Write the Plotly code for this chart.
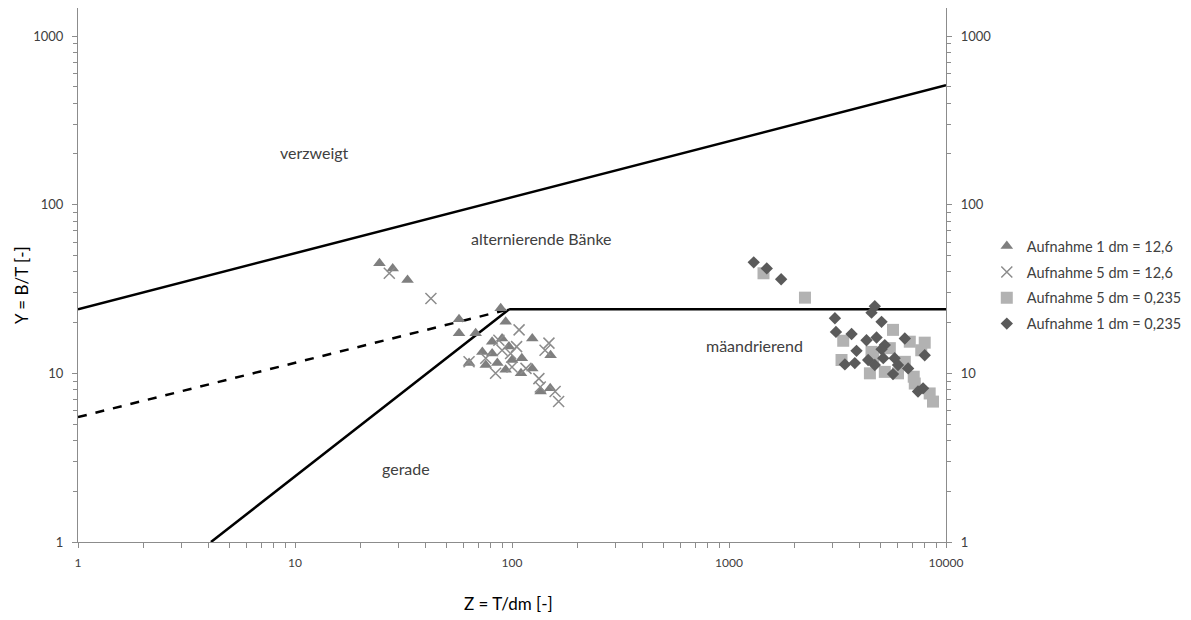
import plotly.graph_objects as go
import numpy as np

# ---- data ----
tri_z = [24.5, 28.2, 33.0, 88.7, 57, 93.5, 57, 68, 124, 150.6, 63.4, 73, 81, 90, 96.8, 85.6, 100, 111, 110, 93.5, 75.7, 124, 135.5, 150, 81]
tri_y = [44.9, 41.9, 35.7, 24.3, 20.9, 20.2, 17.3, 17.3, 16.1, 12.8, 11.5, 13.4, 15.4, 16.1, 14.4, 11.5, 12.0, 12.3, 10.0, 10.5, 11.2, 10.7, 7.8, 8.15, 13.1]

x_z = [27.2, 42.3, 107.8, 148, 142, 63.4, 84, 90, 98.5, 133, 135, 158, 164, 100, 116, 87, 105, 75.7]
x_y = [39.2, 27.8, 18.1, 15.1, 13.7, 11.7, 10.0, 13.7, 13.1, 9.3, 8.3, 7.8, 6.8, 10.9, 10.7, 15.7, 14.4, 12.3]

sq_z = [1442, 2239, 5700, 3360, 7980, 6810, 5510, 7690, 3300, 4537, 4620, 4460, 5224, 6010, 6460, 7100, 7180, 8410, 8710]
sq_y = [39.2, 28.1, 18.1, 15.6, 15.2, 15.4, 14.1, 13.7, 12.0, 13.4, 12.3, 10.0, 10.2, 10.0, 11.7, 9.55, 8.7, 7.6, 6.8]

dia_z = [1300, 1493, 1739, 4697, 4537, 3077, 5046, 3672, 3111, 4302, 4786, 6460, 5224, 5046, 3870, 7980, 3420, 3800, 4378, 4697, 5140, 5800, 6010, 6690, 5700, 7430, 7840]
dia_y = [45.5, 41.9, 36.1, 25.0, 22.9, 21.2, 20.2, 17.1, 17.6, 15.7, 16.3, 16.1, 14.7, 13.9, 13.6, 12.8, 11.3, 11.5, 12.0, 11.2, 12.3, 12.3, 11.2, 10.7, 9.9, 7.8, 8.15]

# boundary lines
upper_z = [1, 10000]
upper_y = [24, 510]
horiz_z = [97, 10000]
horiz_y = [24, 24]
lower_z = [4.1, 97]
lower_y = [1, 24]
dash_z = [1, 97]
dash_y = [5.5, 24]

# region labels
reg_text = ["verzweigt", "alternierende Bänke", "gerade", "mäandrierend"]
reg_z = [12.3, 137, 32.6, 1310]
reg_y = [205, 63.4, 2.71, 14.7]

labels = ["Aufnahme 1 dm = 12,6", "Aufnahme 5 dm = 12,6", "Aufnahme 5 dm = 0,235", "Aufnahme 1 dm = 0,235"]

ytick_vals = [1, 10, 100, 1000]
xtick_vals = [1, 10, 100, 1000, 10000]

FONT = "Lato, 'Open Sans', sans-serif"
TXT = "#404040"
AX = "#8c8c8c"

fig = go.Figure()

for zz, yy, dash in [(upper_z, upper_y, "solid"), (horiz_z, horiz_y, "solid"),
                     (lower_z, lower_y, "solid"), (dash_z, dash_y, "dash")]:
    fig.add_trace(go.Scatter(x=zz, y=yy, mode="lines", showlegend=False,
                             line=dict(color="black", width=2.5, dash=dash), hoverinfo="skip"))

fig.add_trace(go.Scatter(x=tri_z, y=tri_y, mode="markers", name=labels[0], legendgroup="a",
                         marker=dict(symbol="triangle-up", size=11, color="#7f7f7f")))
fig.add_trace(go.Scatter(x=x_z, y=x_y, mode="markers", name=labels[1], legendgroup="b",
                         marker=dict(symbol="x-thin", size=11, line=dict(color="#8c8c8c", width=1.5))))
fig.add_trace(go.Scatter(x=sq_z, y=sq_y, mode="markers", name=labels[2], legendgroup="c",
                         marker=dict(symbol="square", size=12, color="#b2b2b2")))
fig.add_trace(go.Scatter(x=dia_z, y=dia_y, mode="markers", name=labels[3], legendgroup="d",
                         marker=dict(symbol="diamond", size=9.5, color="#5a5a5a")))

# invisible trace for right axis
fig.add_trace(go.Scatter(x=[1], y=[1], yaxis="y2", mode="markers", showlegend=False,
                         marker=dict(opacity=0), hoverinfo="skip"))

for t, zz, yy in zip(reg_text, reg_z, reg_y):
    fig.add_annotation(x=np.log10(zz), y=np.log10(yy), text=t, showarrow=False,
                       font=dict(family=FONT, size=16, color=TXT))

minor_vals = [m * 10 ** d for d in range(0, 4) for m in range(2, 10)]

yaxis_common = dict(type="log", range=[0, 3.166], tickvals=ytick_vals, ticktext=[str(v) for v in ytick_vals],
                    showgrid=False, zeroline=False, showline=True, linecolor=AX, linewidth=1.2,
                    ticks="outside", ticklen=5, tickcolor=AX, ticklabelstandoff=6,
                    minor=dict(tickmode="array", tickvals=minor_vals[:24], ticks="outside", ticklen=4, tickcolor=AX, showgrid=False),
                    tickfont=dict(family=FONT, size=13, color=TXT))

fig.update_layout(
    width=1191, height=620,
    margin=dict(l=70, r=253, t=0, b=86, autoexpand=False),
    plot_bgcolor="white", paper_bgcolor="white",
    xaxis=dict(type="log", range=[0, 4], tickvals=xtick_vals, ticktext=[str(v) for v in xtick_vals],
               showgrid=False, zeroline=False, showline=True, mirror=True, linecolor=AX, linewidth=1.2,
               ticks="outside", ticklen=5, tickcolor=AX, ticklabelstandoff=4,
               minor=dict(tickmode="array", tickvals=minor_vals, ticks="outside", ticklen=5, tickcolor=AX, showgrid=False),
               tickfont=dict(family=FONT, size=12, color=TXT)),
    yaxis=yaxis_common,
    yaxis2=dict(yaxis_common, overlaying="y", side="right"),
    legend=dict(x=1.047, y=0.584, xanchor="left", yanchor="top", tracegroupgap=4,
                font=dict(family=FONT, size=14.5, color=TXT), itemwidth=30, bgcolor="rgba(0,0,0,0)"),
    showlegend=True,
)

# axis titles (page offset of 8px compensated in pixel math)
fig.add_annotation(xref="paper", yref="paper", x=(21 - 78) / 868, y=(542 - 285) / 534, text="Y = B/T [-]",
                   textangle=-90, showarrow=False, xanchor="center", yanchor="middle",
                   font=dict(family=FONT, size=17, color="black"))
fig.add_annotation(xref="paper", yref="paper", x=(508 - 78) / 868, y=-(603 - 542) / 534, text="Z = T/dm [-]",
                   showarrow=False, xanchor="center", yanchor="middle",
                   font=dict(family=FONT, size=17, color="black"))

fig.write_html("out.html")
